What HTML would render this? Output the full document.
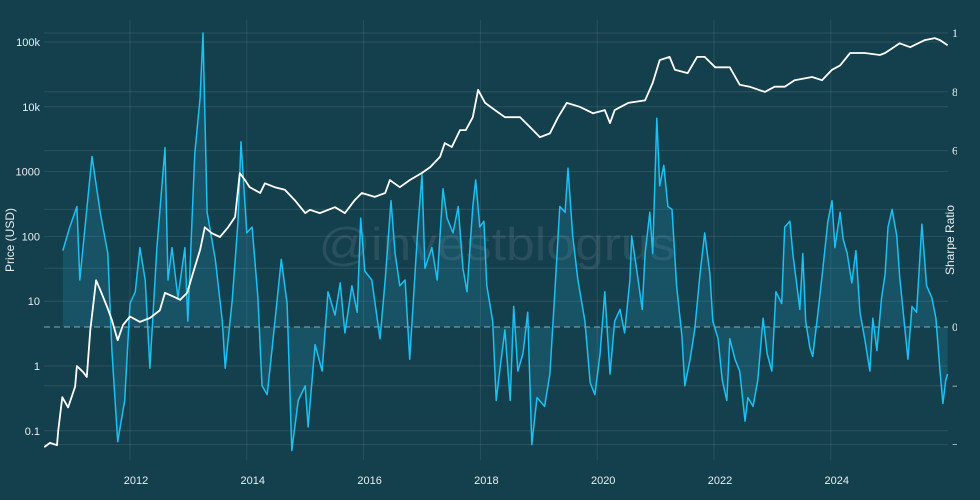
<!DOCTYPE html>
<html><head><meta charset="utf-8"><style>
html,body{margin:0;padding:0;background:#143f4c;}
svg{display:block;font-family:"Liberation Sans",sans-serif;}
</style></head><body>
<svg id="chart" width="980" height="500" viewBox="0 0 980 500">
<defs><clipPath id="rclip"><rect x="0" y="0" width="957" height="500"/></clipPath>
<clipPath id="plotclip"><rect x="44" y="20" width="910" height="440"/></clipPath></defs>
<rect x="0" y="0" width="980" height="500" fill="#143f4c"/>
<g id="grid"></g>
<text x="497" y="260" text-anchor="middle" font-size="46" textLength="357" lengthAdjust="spacingAndGlyphs" fill="rgba(255,255,255,0.09)">@investblogrus</text>
<g id="series" clip-path="url(#plotclip)"></g>
<g id="axes"></g>
<text transform="translate(14,240) rotate(-90)" text-anchor="middle" font-size="12" fill="#e8eef0">Price (USD)</text>
<text transform="translate(954,240) rotate(-90)" text-anchor="middle" font-size="12" fill="#e8eef0">Sharpe Ratio</text>
</svg>
<script>
const priceDates=[2010.53,2010.63,2010.75,2010.77,2010.84,2010.94,2011.06,2011.09,2011.20,2011.26,2011.32,2011.37,2011.42,2011.49,2011.61,2011.69,2011.79,2011.88,2012.00,2012.17,2012.34,2012.51,2012.60,2012.77,2012.86,2012.98,2013.08,2013.20,2013.28,2013.40,2013.54,2013.68,2013.80,2013.88,2013.97,2014.05,2014.23,2014.31,2014.48,2014.65,2014.82,2015.00,2015.08,2015.25,2015.51,2015.68,2015.85,2015.97,2016.19,2016.37,2016.45,2016.62,2016.79,2017.00,2017.14,2017.31,2017.39,2017.51,2017.65,2017.75,2017.87,2017.96,2018.08,2018.25,2018.42,2018.68,2018.90,2019.02,2019.19,2019.33,2019.48,2019.70,2019.93,2020.13,2020.22,2020.30,2020.53,2020.82,2020.95,2021.07,2021.24,2021.33,2021.55,2021.71,2021.84,2022.02,2022.27,2022.44,2022.61,2022.87,2023.04,2023.21,2023.38,2023.68,2023.85,2024.02,2024.16,2024.33,2024.58,2024.84,2024.93,2025.18,2025.36,2025.61,2025.78,2025.87,2026.00];
const priceValues=[0.056,0.065,0.06,0.1,0.33,0.23,0.48,1.0,0.8,0.68,3.6,8.7,21,15,8.1,5.1,2.5,4.3,5.8,4.8,5.5,7.2,13.5,11.5,10.5,13.5,27.5,62,138,112,98,138,200,950,740,575,468,660,575,525,363,229,257,229,282,229,363,468,407,468,740,575,740,955,1175,1700,2750,2400,4370,4370,6900,18200,11500,8900,6900,6900,4370,3390,3890,6900,11500,10000,7950,8900,5600,8900,11500,12600,23400,52500,58900,37200,33100,58900,58900,40700,40700,21900,20400,17000,20400,20400,25700,28800,25700,37200,43600,67600,67600,63100,67600,95500,83200,107000,115000,107000,89100,89100];
const sharpeDates=[2010.85,2010.97,2011.09,2011.14,2011.35,2011.49,2011.62,2011.69,2011.79,2011.91,2012.00,2012.09,2012.17,2012.26,2012.34,2012.46,2012.60,2012.65,2012.72,2012.82,2012.94,2012.99,2013.11,2013.20,2013.25,2013.32,2013.46,2013.58,2013.63,2013.75,2013.85,2013.90,2014.00,2014.09,2014.19,2014.26,2014.35,2014.43,2014.59,2014.69,2014.77,2014.88,2015.00,2015.05,2015.17,2015.29,2015.39,2015.51,2015.60,2015.68,2015.80,2015.89,2015.95,2016.02,2016.14,2016.28,2016.37,2016.47,2016.54,2016.62,2016.71,2016.79,2016.93,2017.00,2017.05,2017.17,2017.26,2017.36,2017.43,2017.53,2017.62,2017.70,2017.77,2017.87,2017.92,2017.99,2018.06,2018.11,2018.21,2018.27,2018.33,2018.42,2018.51,2018.57,2018.64,2018.73,2018.81,2018.88,2018.97,2019.10,2019.19,2019.28,2019.36,2019.45,2019.50,2019.58,2019.67,2019.79,2019.88,2019.96,2020.05,2020.13,2020.22,2020.30,2020.39,2020.47,2020.56,2020.59,2020.68,2020.77,2020.82,2020.90,2020.95,2021.02,2021.07,2021.14,2021.21,2021.28,2021.36,2021.45,2021.50,2021.59,2021.67,2021.76,2021.84,2021.93,2021.98,2022.07,2022.14,2022.22,2022.27,2022.36,2022.44,2022.53,2022.58,2022.67,2022.75,2022.84,2022.91,2022.99,2023.06,2023.16,2023.21,2023.30,2023.35,2023.42,2023.47,2023.52,2023.57,2023.64,2023.69,2023.78,2023.86,2023.95,2024.02,2024.07,2024.16,2024.21,2024.28,2024.36,2024.43,2024.50,2024.58,2024.67,2024.72,2024.79,2024.87,2024.93,2024.98,2025.05,2025.13,2025.18,2025.27,2025.32,2025.39,2025.47,2025.56,2025.64,2025.73,2025.80,2025.87,2025.92,2025.97,2026.00];
const sharpeValues=[2.6,3.4,4.1,1.6,5.8,3.9,2.5,-0.8,-3.9,-2.5,0.8,1.2,2.7,1.6,-1.4,2.7,6.1,1.6,2.7,1.0,2.7,0.2,5.9,7.8,10,3.9,2.3,0.2,-1.4,0.9,3.6,6.3,3.2,3.4,1.0,-2.0,-2.3,-0.8,2.3,0.8,-4.2,-2.5,-2.0,-3.4,-0.6,-1.5,1.2,0.4,1.5,-0.2,1.4,0.5,3.7,1.9,1.6,-0.4,1.6,4.3,2.5,1.4,1.6,-1.1,3.4,5.2,2.0,2.7,1.6,4.7,3.7,3.2,4.1,2.0,1.2,4.1,5.0,3.4,3.6,1.4,0.2,-2.5,-1.5,-0.1,-2.5,0.7,-1.5,-0.9,0.5,-4.0,-2.4,-2.7,-1.6,1.4,4.1,3.9,5.4,3.1,1.6,0.2,-1.9,-2.3,-0.9,1.2,-1.6,0.2,0.6,-0.2,1.6,3.1,1.9,0.6,2.5,3.9,2.5,7.1,4.8,5.5,4.1,4.0,1.4,-0.3,-2.0,-1.1,-0.1,1.8,3.2,1.8,0.2,-0.4,-1.8,-2.5,-0.4,-1.1,-1.5,-3.2,-2.4,-2.7,-1.8,0.3,-0.9,-1.5,1.2,0.8,3.4,3.6,2.5,1.4,0.6,2.5,0.2,-0.7,-1.0,0.5,1.9,3.6,4.3,2.7,3.9,3.0,2.5,1.5,2.6,0.5,-0.4,-1.5,0.3,-0.8,1.0,1.8,3.4,4.0,3.1,1.7,-0.1,-1.1,0.7,0.5,3.5,1.4,1.0,0.3,-1.5,-2.6,-1.8,-1.6];
const xTickYears=[2012,2014,2016,2018,2020,2022,2024];
const xTickLabels=["2012","2014","2016","2018","2020","2022","2024"];
const priceTicks=[100000,10000,1000,100,10,1,0.1];
const priceTickLabels=["100k","10k","1000","100","10","1","0.1"];
const sharpeTicks=[10,8,6,4,2,0,-2,-4];
const sharpeTickLabels=["10","8","6","","","0","−2","−4"];

const NS="http://www.w3.org/2000/svg";
const xS=y=>130+(y-2012)*58.4;
const yP=p=>42+(5-Math.log10(p))*64.8;
const yS=s=>327-s*29.4;
function mk(tag,attrs,parent){const e=document.createElementNS(NS,tag);for(const k in attrs)e.setAttribute(k,attrs[k]);parent.appendChild(e);return e;}
const grid=document.getElementById('grid'),axes=document.getElementById('axes'),ser=document.getElementById('series');
xTickYears.forEach((yr,i)=>{
 const l=mk('line',{x1:xS(yr),x2:xS(yr),y1:20,y2:460,stroke:'rgba(255,255,255,0.09)','stroke-width':1},grid);
 
 
 const t=mk('text',{x:xS(yr)+6,y:484,'text-anchor':'middle','font-size':11,fill:'#e8eef0'},axes);
 t.textContent=xTickLabels[i];
 
 
});
priceTicks.forEach((p,i)=>{
 const l=mk('line',{x1:44,x2:948,y1:yP(p),y2:yP(p),stroke:'rgba(255,255,255,0.1)','stroke-width':1},grid);
 
 
 const t=mk('text',{x:40,y:yP(p)+4,'text-anchor':'end','font-size':11,fill:'#e8eef0'},axes);
 t.textContent=priceTickLabels[i];
 
 
});
const rg=mk('g',{'clip-path':'url(#rclip)'},axes);
sharpeTicks.forEach((s,i)=>{
 if(s!==0){const l=mk('line',{x1:44,x2:948,y1:yS(s),y2:yS(s),stroke:'rgba(255,255,255,0.1)','stroke-width':1},grid);
 
 }
 const t=mk('text',{x:952,y:yS(s)+4,'font-size':12,fill:'#e8eef0','font-family':'Liberation Serif, serif'},rg);
 t.textContent=sharpeTickLabels[i];
 
 
});
// fill to zero
let fd='M'+xS(sharpeDates[0])+','+yS(0);
sharpeDates.forEach((d,i)=>{fd+=' L'+xS(d).toFixed(1)+','+yS(sharpeValues[i]).toFixed(1);});
fd+=' L'+xS(sharpeDates[sharpeDates.length-1])+','+yS(0)+' Z';
const fill=mk('path',{d:fd,fill:'rgba(40,150,190,0.22)',stroke:'none'},ser);


const zl=mk('line',{x1:44,x2:948,y1:yS(0),y2:yS(0),stroke:'rgba(220,235,240,0.6)','stroke-width':1,'stroke-dasharray':'6,4'},ser);


const sp=mk('polyline',{points:sharpeDates.map((d,i)=>xS(d).toFixed(1)+','+yS(sharpeValues[i]).toFixed(1)).join(' '),fill:'none',stroke:'#1cc0f2','stroke-width':1.5,'stroke-linejoin':'round'},ser);


const pp=mk('polyline',{points:priceDates.map((d,i)=>xS(d).toFixed(1)+','+yP(priceValues[i]).toFixed(1)).join(' '),fill:'none',stroke:'#ffffff','stroke-width':1.8,'stroke-linejoin':'round'},ser);


</script>
</body></html>
